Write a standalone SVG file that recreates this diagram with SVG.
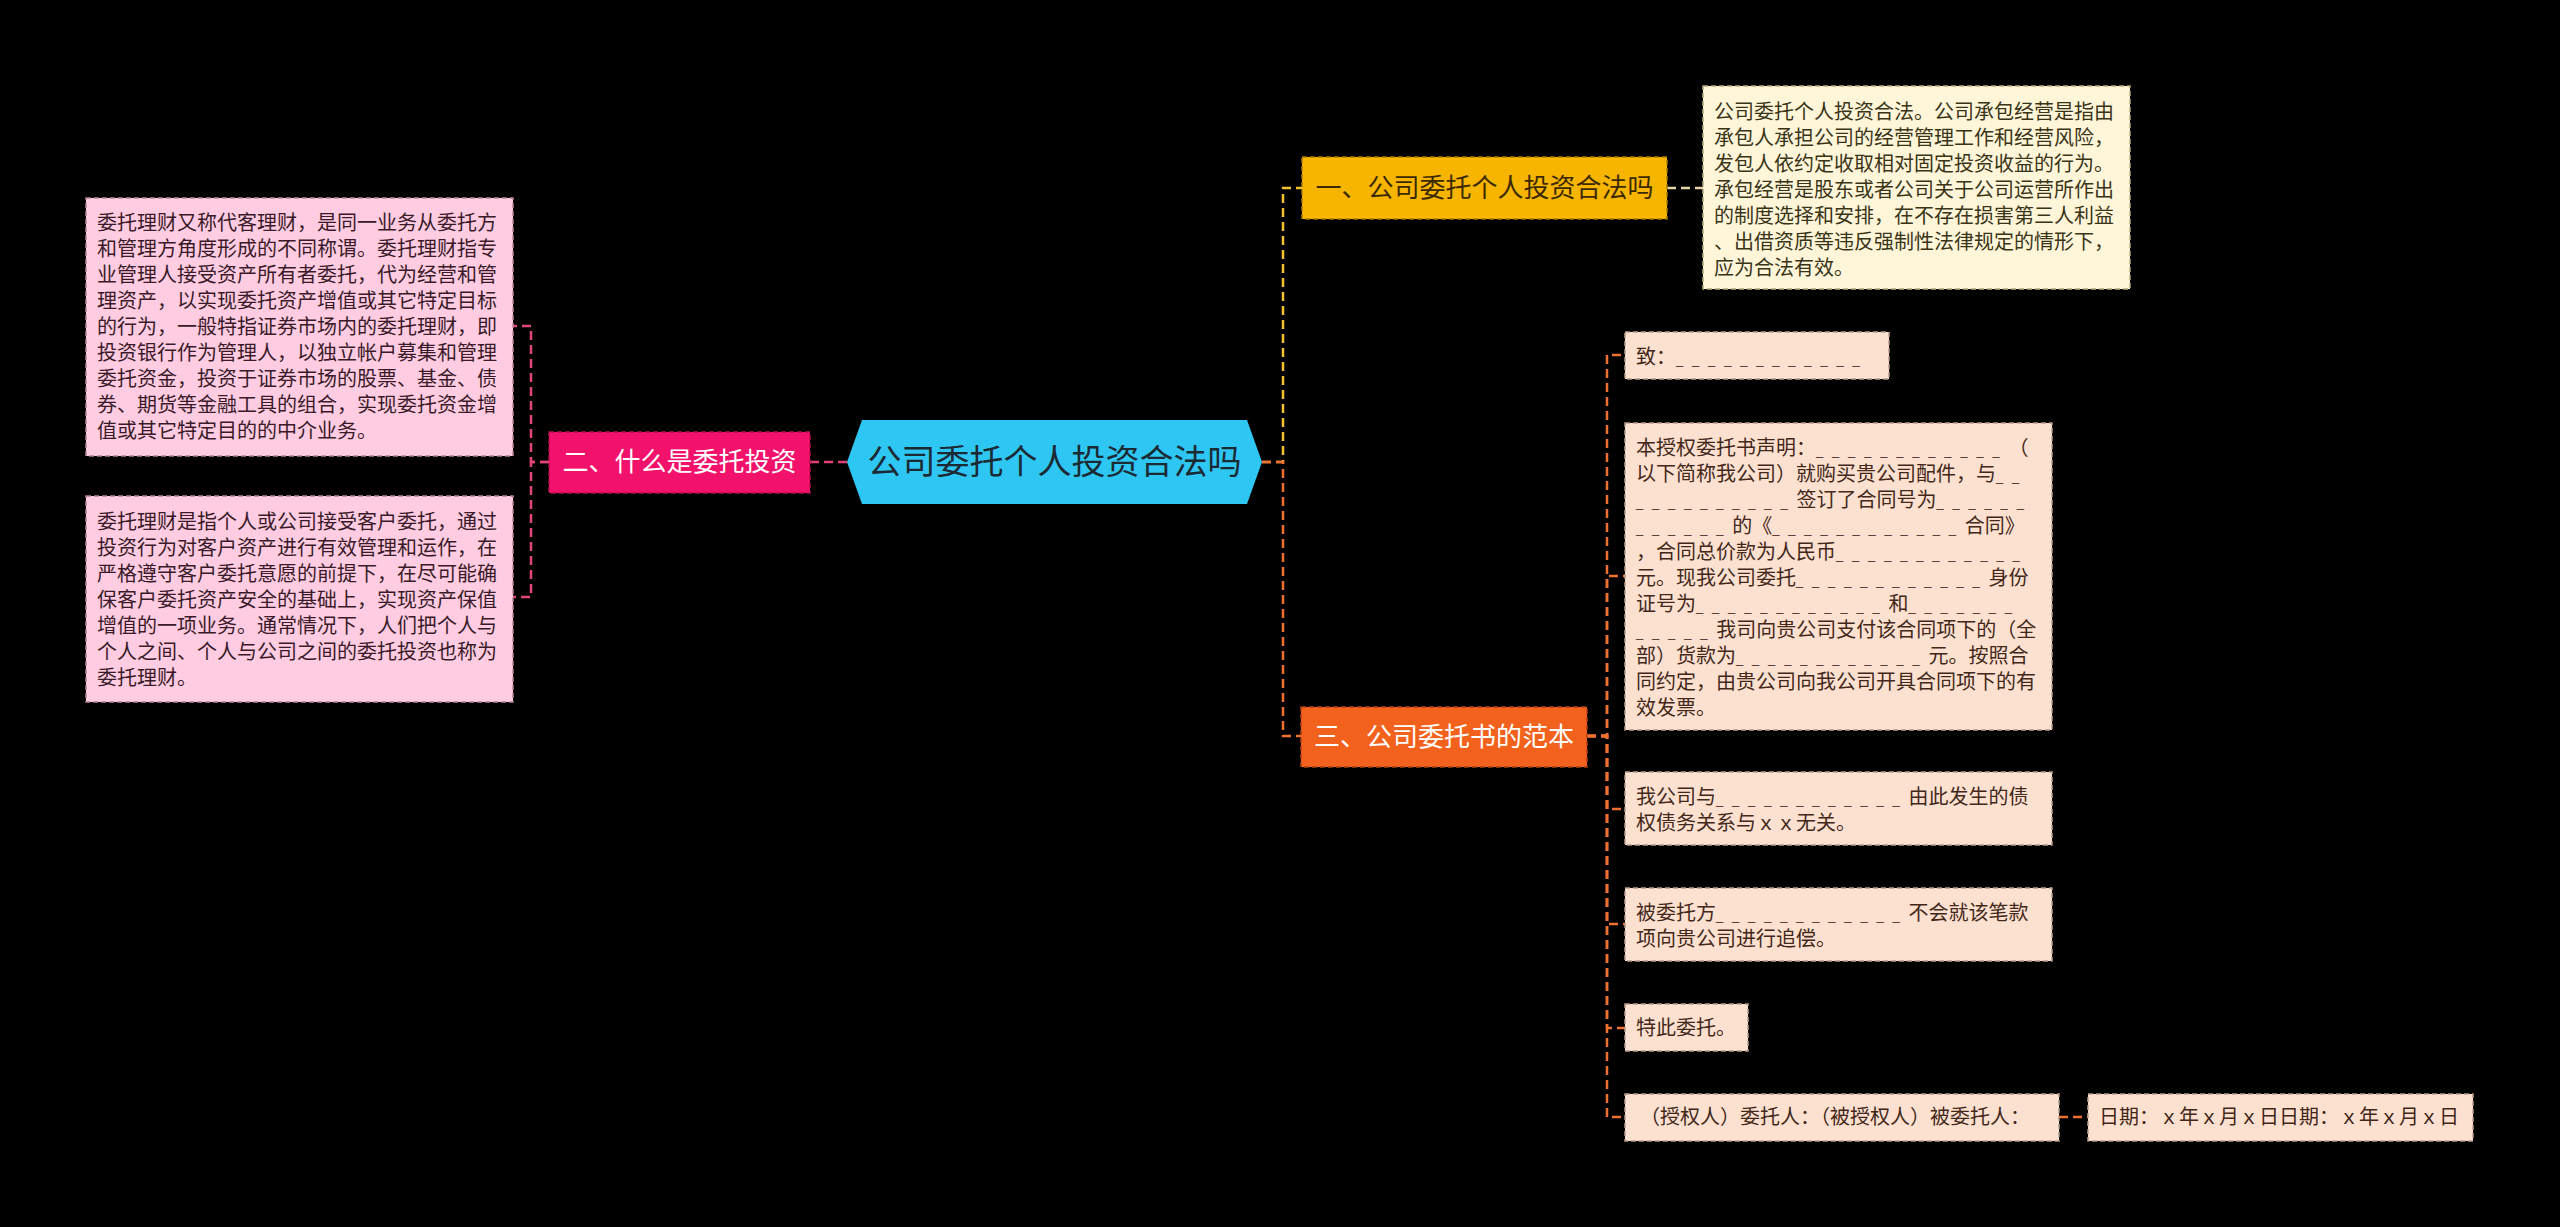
<svg xmlns="http://www.w3.org/2000/svg" width="2560" height="1227" viewBox="0 0 2560 1227">
<style>
text{font-family:"Liberation Sans","Noto Sans CJK SC",sans-serif;}
.t20{font-size:20px;}
.t26{font-size:26px;}
.u{font-size:13px;letter-spacing:2.6px;}
.box{stroke-width:1.5;stroke-dasharray:5 3;}
.pink{fill:#FFCCE2;stroke:#B88299;}
.cream{fill:#FFF6DA;stroke:#B8AA80;}
.peach{fill:#FDE1D0;stroke:#B89A88;}
.tpink{fill:#3A1A28;}
.tcream{fill:#3A3416;}
.tpeach{fill:#43281A;}
.con{fill:none;stroke-width:2.5;stroke-dasharray:9 5;}
</style>
<rect x="0" y="0" width="2560" height="1227" fill="#000000"/>
<g id="connectors">
<path class="con" stroke="#E0407A" d="M810,462 H847"/>
<path class="con" stroke="#E0457B" d="M549,462 H531 V326 H513"/>
<path class="con" stroke="#E0457B" d="M549,462 H531 V597 H513"/>
<path class="con" stroke="#F2C12E" d="M1262,462 H1283 V188 H1302"/>
<path class="con" stroke="#F07030" d="M1262,462 H1283 V736 H1301"/>
<path class="con" stroke="#E8D4A8" d="M1667,188 H1703"/>
<path class="con" stroke="#F07030" d="M1587,736 H1607 V355 H1625"/>
<path class="con" stroke="#F07030" d="M1587,736 H1607 V576 H1625"/>
<path class="con" stroke="#F07030" d="M1587,736 H1607 V809 H1625"/>
<path class="con" stroke="#F07030" d="M1587,736 H1607 V924 H1625"/>
<path class="con" stroke="#F07030" d="M1587,736 H1607 V1028 H1625"/>
<path class="con" stroke="#F07030" d="M1587,736 H1607 V1117 H1625"/>
<path class="con" stroke="#F07030" d="M2059,1117 H2088"/>
</g>
<g id="root">
<polygon points="847,462 862,420 1247,420 1262,462 1247,504 862,504" fill="#2EC6F3"/>
<text x="1054.5" y="474" font-size="34" text-anchor="middle" fill="#1B2A33">公司委托个人投资合法吗</text>
</g>
<g id="n2">
<rect x="549" y="432" width="261" height="61" fill="#F2126C" stroke="#B8104F" class="box"/>
<text x="679.5" y="471" class="t26" text-anchor="middle" fill="#FFFFFF">二、什么是委托投资</text>
</g>
<g id="n2a">
<rect x="86" y="198" width="427" height="258" class="box pink"/>
<text class="t20 tpink" x="97" y="230">委托理财又称代客理财，是同一业务从委托方<tspan x="97" dy="26">和管理方角度形成的不同称谓。委托理财指专</tspan><tspan x="97" dy="26">业管理人接受资产所有者委托，代为经营和管</tspan><tspan x="97" dy="26">理资产，以实现委托资产增值或其它特定目标</tspan><tspan x="97" dy="26">的行为，一般特指证券市场内的委托理财，即</tspan><tspan x="97" dy="26">投资银行作为管理人，以独立帐户募集和管理</tspan><tspan x="97" dy="26">委托资金，投资于证券市场的股票、基金、债</tspan><tspan x="97" dy="26">券、期货等金融工具的组合，实现委托资金增</tspan><tspan x="97" dy="26">值或其它特定目的的中介业务。</tspan></text>
</g>
<g id="n2b">
<rect x="86" y="496" width="427" height="206" class="box pink"/>
<text class="t20 tpink" x="97" y="529">委托理财是指个人或公司接受客户委托，通过<tspan x="97" dy="26">投资行为对客户资产进行有效管理和运作，在</tspan><tspan x="97" dy="26">严格遵守客户委托意愿的前提下，在尽可能确</tspan><tspan x="97" dy="26">保客户委托资产安全的基础上，实现资产保值</tspan><tspan x="97" dy="26">增值的一项业务。通常情况下，人们把个人与</tspan><tspan x="97" dy="26">个人之间、个人与公司之间的委托投资也称为</tspan><tspan x="97" dy="26">委托理财。</tspan></text>
</g>
<g id="n1">
<rect x="1302" y="157" width="365" height="62" fill="#F7B500" stroke="#A87A00" class="box"/>
<text x="1484.5" y="197" class="t26" text-anchor="middle" fill="#3B2A00">一、公司委托个人投资合法吗</text>
</g>
<g id="n1a">
<rect x="1703" y="86" width="427" height="203" class="box cream"/>
<text class="t20 tcream" x="1714" y="119">公司委托个人投资合法。公司承包经营是指由<tspan x="1714" dy="26">承包人承担公司的经营管理工作和经营风险，</tspan><tspan x="1714" dy="26">发包人依约定收取相对固定投资收益的行为。</tspan><tspan x="1714" dy="26">承包经营是股东或者公司关于公司运营所作出</tspan><tspan x="1714" dy="26">的制度选择和安排，在不存在损害第三人利益</tspan><tspan x="1714" dy="26">、出借资质等违反强制性法律规定的情形下，</tspan><tspan x="1714" dy="26">应为合法有效。</tspan></text>
</g>
<g id="n3">
<rect x="1301" y="707" width="286" height="60" fill="#F2621C" stroke="#B04010" class="box"/>
<text x="1444" y="746" class="t26" text-anchor="middle" fill="#FFFFFF">三、公司委托书的范本</text>
</g>
<g id="n3a">
<rect x="1625" y="332" width="264" height="47" class="box peach"/>
<text class="t20 tpeach" x="1636" y="364">致：<tspan class="u">_ _ _ _ _ _ _ _ _ _ _ _</tspan></text>
</g>
<g id="n3b">
<rect x="1625" y="423" width="427" height="307" class="box peach"/>
<text class="t20 tpeach" x="1636" y="455">本授权委托书声明：<tspan class="u">_ _ _ _ _ _ _ _ _ _ _ _ </tspan>（<tspan x="1636" dy="26">以下简称我公司）就购买贵公司配件，与</tspan><tspan class="u">_ _</tspan><tspan x="1636" dy="26" class="u">_ _ _ _ _ _ _ _ _ _ </tspan><tspan>签订了合同号为</tspan><tspan class="u">_ _ _ _ _ _</tspan><tspan x="1636" dy="26" class="u">_ _ _ _ _ _ </tspan><tspan>的《</tspan><tspan class="u">_ _ _ _ _ _ _ _ _ _ _ _ </tspan><tspan>合同》</tspan><tspan x="1636" dy="26">，合同总价款为人民币</tspan><tspan class="u">_ _ _ _ _ _ _ _ _ _ _ _</tspan><tspan x="1636" dy="26">元。现我公司委托</tspan><tspan class="u">_ _ _ _ _ _ _ _ _ _ _ _ </tspan><tspan>身份</tspan><tspan x="1636" dy="26">证号为</tspan><tspan class="u">_ _ _ _ _ _ _ _ _ _ _ _ </tspan><tspan>和</tspan><tspan class="u">_ _ _ _ _ _ _</tspan><tspan x="1636" dy="26" class="u">_ _ _ _ _ </tspan><tspan>我司向贵公司支付该合同项下的（全</tspan><tspan x="1636" dy="26">部）货款为</tspan><tspan class="u">_ _ _ _ _ _ _ _ _ _ _ _ </tspan><tspan>元。按照合</tspan><tspan x="1636" dy="26">同约定，由贵公司向我公司开具合同项下的有</tspan><tspan x="1636" dy="26">效发票。</tspan></text>
</g>
<g id="n3c">
<rect x="1625" y="772" width="427" height="73" class="box peach"/>
<text class="t20 tpeach" x="1636" y="804">我公司与<tspan class="u">_ _ _ _ _ _ _ _ _ _ _ _ </tspan><tspan>由此发生的债</tspan><tspan x="1636" dy="26">权债务关系与ｘｘ无关。</tspan></text>
</g>
<g id="n3d">
<rect x="1625" y="888" width="427" height="73" class="box peach"/>
<text class="t20 tpeach" x="1636" y="920">被委托方<tspan class="u">_ _ _ _ _ _ _ _ _ _ _ _ </tspan><tspan>不会就该笔款</tspan><tspan x="1636" dy="26">项向贵公司进行追偿。</tspan></text>
</g>
<g id="n3e">
<rect x="1625" y="1004" width="123" height="47" class="box peach"/>
<text class="t20 tpeach" x="1636" y="1035">特此委托。</text>
</g>
<g id="n3f">
<rect x="1625" y="1094" width="434" height="47" class="box peach"/>
<text class="t20 tpeach" x="1640" y="1124">（授权人）委托人：（被授权人）被委托人：</text>
</g>
<g id="n3f1">
<rect x="2088" y="1094" width="385" height="47" class="box peach"/>
<text class="t20 tpeach" x="2099" y="1124">日期：ｘ年ｘ月ｘ日日期：ｘ年ｘ月ｘ日</text>
</g>
</svg>
